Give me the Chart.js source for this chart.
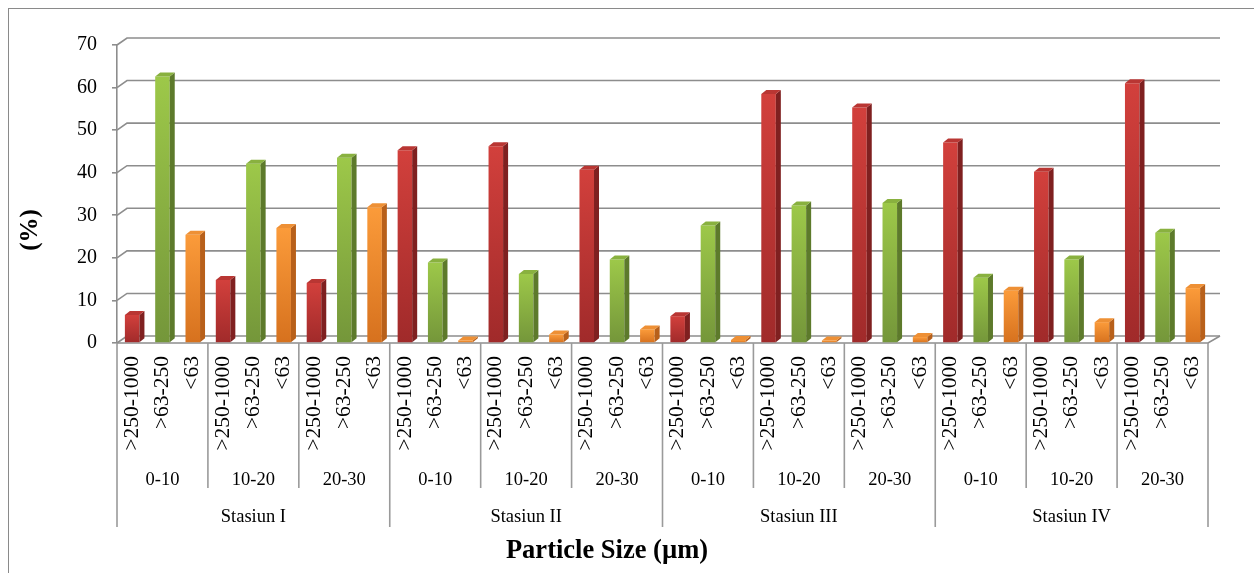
<!DOCTYPE html>
<html>
<head>
<meta charset="utf-8">
<script src="https://cdn.jsdelivr.net/npm/chart.js@4.4.1/dist/chart.umd.min.js"></script>
<style>
  html, body { margin: 0; padding: 0; background: #fff; }
  canvas { display: block; }
</style>
</head>
<body>
<canvas id="sizeChart" width="1254" height="573"></canvas>
<script>
// station / depth / size class labels
const stations = ['Stasiun I', 'Stasiun II', 'Stasiun III', 'Stasiun IV'];
const depths = ['0-10', '10-20', '20-30'];
const sizeClasses = ['>250-1000', '>63-250', '<63'];

// percent per station+depth (I 0-10, I 10-20, I 20-30, II 0-10, ...)
const coarse = [6.6, 14.8, 14.1, 45.3, 46.2, 40.7, 6.3, 58.5, 55.3, 47.1, 40.2, 61.0];
const medium = [62.6, 42.1, 43.5, 18.9, 16.2, 19.6, 27.6, 32.3, 32.9, 15.3, 19.6, 25.9];
const fine   = [25.4, 27.0, 31.9, 0.6, 2.0, 3.2, 0.7, 0.6, 1.4, 12.3, 4.9, 12.9];

const yTicks = [0, 10, 20, 30, 40, 50, 60, 70];

const FONT = '"Liberation Serif", "Times New Roman", serif';
const GRID = '#8d8d8d';
const DX = 10, DY = -7;   // depth of the back wall

// colours for each size class: [front top, front bottom, side, top face]
const palette = [
  ['#d2403c', '#a02a2a', '#7f2020', '#b93633'],
  ['#9dc849', '#74963a', '#5d7a2b', '#89b13f'],
  ['#fb9b3a', '#d6711e', '#b8601a', '#ee9035']
];

// build the flat lists the chart needs
const labels = [];
const values = [];
const classIdx = [];
for (let i = 0; i < coarse.length; i++) {
  [coarse[i], medium[i], fine[i]].forEach((v, k) => {
    labels.push(sizeClasses[k]);
    values.push(v);
    classIdx.push(k);
  });
}

function frontFill(context) {
  const chart = context.chart;
  const k = classIdx[context.dataIndex];
  const yScale = chart.scales.y;
  if (!yScale || !chart.chartArea) return palette[k][0];
  const top = yScale.getPixelForValue(values[context.dataIndex]);
  const bottom = yScale.getPixelForValue(0);
  const g = chart.ctx.createLinearGradient(0, top, 0, bottom);
  g.addColorStop(0, palette[k][0]);
  g.addColorStop(1, palette[k][1]);
  return g;
}

// back wall grid, floor and outer frame
const wallPlugin = {
  id: 'wall',
  beforeDatasetsDraw(chart) {
    const { ctx, chartArea } = chart;
    const y = chart.scales.y;
    ctx.save();
    ctx.strokeStyle = '#8a8a8a';
    ctx.lineWidth = 1;
    ctx.strokeRect(8.5, 8.5, 1300, 600);

    ctx.strokeStyle = GRID;
    ctx.lineWidth = 1.6;
    yTicks.forEach(t => {
      const py = y.getPixelForValue(t);
      ctx.beginPath();
      ctx.moveTo(chartArea.left, py);
      ctx.lineTo(chartArea.left + DX, py + DY);
      ctx.lineTo(chartArea.right + DX + 2, py + DY);
      ctx.stroke();
    });
    // floor
    const py0 = y.getPixelForValue(0);
    ctx.beginPath();
    ctx.moveTo(chartArea.left, py0);
    ctx.lineTo(chartArea.right, py0);
    ctx.lineTo(chartArea.right + DX + 2, py0 + DY);
    ctx.stroke();
    ctx.restore();
  }
};

// fake 3d faces on every bar
const barFacePlugin = {
  id: 'barFaces',
  afterDatasetsDraw(chart) {
    const { ctx } = chart;
    const meta = chart.getDatasetMeta(0);
    const dx = 5, dy = -4;
    ctx.save();
    meta.data.forEach((bar, i) => {
      const k = classIdx[i];
      const x1 = bar.x - bar.width / 2;
      const x2 = bar.x + bar.width / 2;
      const top = bar.y;
      const bottom = bar.base;
      // side
      ctx.fillStyle = palette[k][2];
      ctx.beginPath();
      ctx.moveTo(x2, top);
      ctx.lineTo(x2 + dx, top + dy);
      ctx.lineTo(x2 + dx, bottom + dy);
      ctx.lineTo(x2, bottom);
      ctx.closePath();
      ctx.fill();
      // top
      ctx.fillStyle = palette[k][3];
      ctx.beginPath();
      ctx.moveTo(x1, top);
      ctx.lineTo(x1 + dx, top + dy);
      ctx.lineTo(x2 + dx, top + dy);
      ctx.lineTo(x2, top);
      ctx.closePath();
      ctx.fill();
    });
    ctx.restore();
  }
};

// multi level category labels + axis titles
const labelPlugin = {
  id: 'groupLabels',
  afterDraw(chart) {
    const { ctx, chartArea } = chart;
    const x = chart.scales.x;
    const n = labels.length;
    const w = (chartArea.right - chartArea.left) / n;
    const axisY = chartArea.bottom;
    ctx.save();
    ctx.fillStyle = '#000';

    // size classes, rotated
    ctx.font = '21.5px ' + FONT;
    ctx.textAlign = 'right';
    ctx.textBaseline = 'middle';
    labels.forEach((lab, i) => {
      ctx.save();
      ctx.translate(x.getPixelForValue(i), 356);
      ctx.rotate(-Math.PI / 2);
      ctx.fillText(lab, 0, 0);
      ctx.restore();
    });

    // divider lines
    ctx.strokeStyle = '#9a9a9a';
    ctx.lineWidth = 1.6;
    for (let g = 0; g <= n / 3; g++) {
      const px = chartArea.left + g * 3 * w;
      const end = g % 3 === 0 ? 527 : 488;
      ctx.beginPath();
      ctx.moveTo(px, axisY);
      ctx.lineTo(px, end);
      ctx.stroke();
    }

    // depth and station names
    ctx.font = '18.5px ' + FONT;
    ctx.textAlign = 'center';
    ctx.textBaseline = 'alphabetic';
    for (let g = 0; g < n / 3; g++) {
      const cx = chartArea.left + (g * 3 + 1.5) * w;
      ctx.fillText(depths[g % 3], cx, 485);
    }
    stations.forEach((s, si) => {
      const cx = chartArea.left + (si * 9 + 4.5) * w;
      ctx.fillText(s, cx, 522);
    });

    // axis titles
    ctx.font = 'bold 26.5px ' + FONT;
    ctx.fillText('Particle Size (\u00b5m)', 607, 558);
    ctx.save();
    ctx.translate(31, 230);
    ctx.rotate(-Math.PI / 2);
    ctx.textBaseline = 'middle';
    ctx.font = 'bold 25px ' + FONT;
    ctx.fillText('(%)', 0, 0);
    ctx.restore();
    ctx.restore();
  }
};

const ctx = document.getElementById('sizeChart').getContext('2d');
new Chart(ctx, {
  type: 'bar',
  data: {
    labels: labels,
    datasets: [{
      data: values,
      backgroundColor: frontFill,
      borderWidth: 0,
      barPercentage: 0.48,
      categoryPercentage: 1.0
    }]
  },
  options: {
    responsive: false,
    animation: false,
    layout: { padding: { left: 0, right: 46, top: 45, bottom: 230 } },
    plugins: {
      legend: { display: false },
      tooltip: { enabled: false }
    },
    scales: {
      x: { display: false },
      y: {
        min: 0,
        max: 70,
        afterFit(scale) { scale.width = 117; },
        afterBuildTicks(scale) { scale.ticks = yTicks.map(v => ({ value: v })); },
        ticks: {
          color: '#000',
          padding: 15,
          font: { family: FONT, size: 20 }
        },
        grid: { drawOnChartArea: false, tickLength: 5, color: GRID, lineWidth: 1.6 },
        border: { color: GRID, width: 1.6 }
      }
    }
  },
  plugins: [wallPlugin, barFacePlugin, labelPlugin]
});
</script>
</body>
</html>
